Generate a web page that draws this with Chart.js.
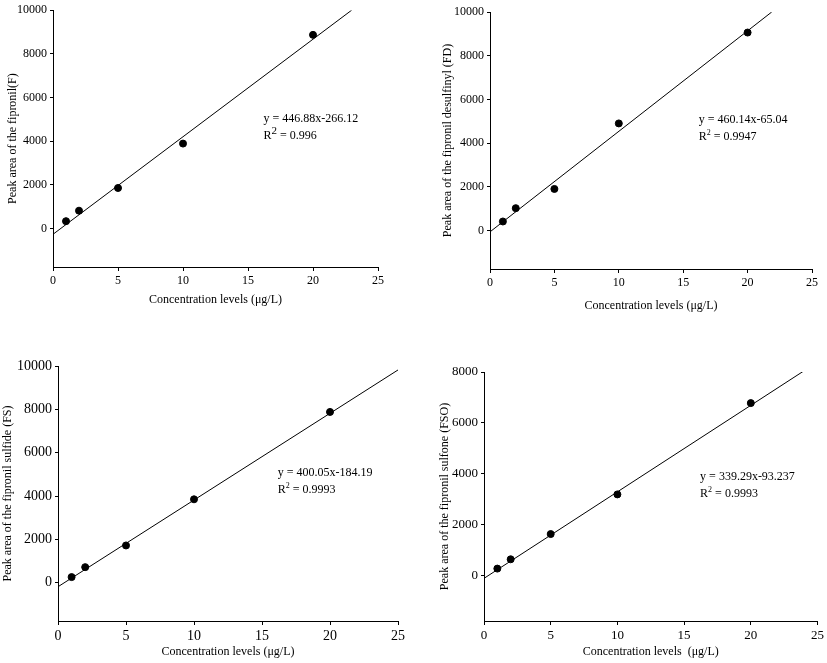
<!DOCTYPE html>
<html>
<head>
<meta charset="utf-8">
<script src="https://cdn.jsdelivr.net/npm/chart.js@4"></script>
<style>
  html, body { margin: 0; padding: 0; background: #fff; }
  #wrap { position: relative; width: 827px; height: 663px; }
  #wrap canvas { position: absolute; left: 0; top: 0; }
</style>
</head>
<body>
<div id="wrap">
  <canvas id="c1" width="827" height="663"></canvas>
  <canvas id="c2" width="827" height="663"></canvas>
  <canvas id="c3" width="827" height="663"></canvas>
  <canvas id="c4" width="827" height="663"></canvas>
</div>
<script>
// concentration levels (µg/L)
const concentrations = [1, 2, 5, 10, 20];

// peak areas
const peakF = [335, 815, 1855, 3890, 8870];
const peakFD = [410, 1020, 1900, 4900, 9060];
const peakFS = [260, 720, 1720, 3850, 7880];
const peakFSO = [290, 655, 1645, 3200, 6780];

// fitted lines: slope, intercept, end of drawn line on x
const slopes = [446.88, 460.14, 400.05, 339.29];
const intercepts = [-266.12, -65.04, -184.19, -93.237];
const lineEnds = [22.97, 21.87, 25, 23.95];

const equations = ["y = 446.88x-266.12", "y = 460.14x-65.04", "y = 400.05x-184.19", "y = 339.29x-93.237"];
const rSquared = ["0.996", "0.9947", "0.9993", "0.9993"];

const xTicks = [0, 5, 10, 15, 20, 25];
const yTicksA = [0, 2000, 4000, 6000, 8000, 10000];
const yTicksB = [0, 2000, 4000, 6000, 8000];

const yTitles = [
  "Peak area of the fipronil(F)",
  "Peak area of the fipronil desulfinyl (FD)",
  "Peak area of the fipronil sulfide (FS)",
  "Peak area of the fipronil sulfone (FSO)"
];
const xTitles = [
  "Concentration levels (\u03bcg/L)",
  "Concentration levels (\u03bcg/L)",
  "Concentration levels (\u03bcg/L)",
  "Concentration levels  (\u03bcg/L)"
];

const FONT = "'Liberation Serif', 'Times New Roman', serif";

// per-panel placement
const panels = [
  { id: "c1", data: peakF, yTicks: yTicksA, yMax: 10000, pad: { left: 7, right: 449, top: 7, bottom: 357 }, yW: 46, xH: 39, tickSize: 12, note: [16.2, 5000] },
  { id: "c2", data: peakFD, yTicks: yTicksA, yMax: 10000, pad: { left: 442, right: 15, top: 12, bottom: 351 }, yW: 48, xH: 43, tickSize: 12, note: [16.2, 5050] },
  { id: "c3", data: peakFS, yTicks: yTicksA, yMax: 10000, pad: { left: 2, right: 429, top: 366, bottom: 5 }, yW: 56, xH: 37, tickSize: 14, note: [16.15, 5070] },
  { id: "c4", data: peakFSO, yTicks: yTicksB, yMax: 8000, pad: { left: 439, right: 7, top: 372, bottom: 5 }, yW: 45, xH: 37, tickSize: 13, note: [16.2, 3880] }
];

const equationPlugin = {
  id: "equation",
  afterDatasetsDraw(chart, args, opts) {
    const { ctx, scales } = chart;
    const x = scales.x.getPixelForValue(opts.at[0]);
    const y = scales.y.getPixelForValue(opts.at[1]);
    ctx.save();
    ctx.fillStyle = "#000";
    ctx.textBaseline = "middle";
    ctx.textAlign = "left";
    ctx.font = "12px " + FONT;
    ctx.fillText(opts.eq, x, y);
    const y2 = y + 17;
    ctx.fillText("R", x, y2);
    const rw = ctx.measureText("R").width;
    ctx.font = (opts.bigSup ? "11px " : "8px ") + FONT;
    ctx.fillText("2", x + rw, y2 - (opts.bigSup ? 5 : 4));
    const sw = ctx.measureText("2").width;
    ctx.font = "12px " + FONT;
    ctx.fillText(" = " + opts.r2, x + rw + sw, y2);
    ctx.restore();
  }
};

panels.forEach((p, i) => {
  const points = concentrations.map((c, k) => ({ x: c, y: p.data[k] }));
  const fit = [
    { x: 0, y: intercepts[i] },
    { x: lineEnds[i], y: slopes[i] * lineEnds[i] + intercepts[i] }
  ];
  new Chart(document.getElementById(p.id).getContext("2d"), {
    type: "scatter",
    data: {
      datasets: [
        {
          label: "measured",
          data: points,
          backgroundColor: "#000",
          borderColor: "#000",
          pointRadius: 3.5,
          pointHoverRadius: 3.5
        },
        {
          label: "fit",
          type: "line",
          data: fit,
          borderColor: "#000",
          borderWidth: 1,
          pointRadius: 0,
          fill: false
        }
      ]
    },
    plugins: [equationPlugin],
    options: {
      responsive: false,
      animation: false,
      events: [],
      layout: { padding: p.pad },
      plugins: {
        legend: { display: false },
        tooltip: { enabled: false },
        equation: { at: p.note, eq: equations[i], r2: rSquared[i], bigSup: i === 0 }
      },
      scales: {
        x: {
          type: "linear",
          min: 0,
          max: 25,
          afterFit: (s) => { s.height = p.xH; },
          afterBuildTicks: (s) => { s.ticks = xTicks.map((v) => ({ value: v })); },
          grid: { drawOnChartArea: false, drawTicks: true, tickLength: 4, color: "#000" },
          border: { display: true, color: "#000", width: 1 },
          ticks: { color: "#000", padding: 3, maxRotation: 0, callback: (v) => String(v), font: { family: FONT, size: p.tickSize } },
          title: { display: true, text: xTitles[i], color: "#000", padding: 0, font: { family: FONT, size: 12, lineHeight: 1 } }
        },
        y: {
          type: "linear",
          min: -1765,
          max: p.yMax,
          afterFit: (s) => { s.width = p.yW; },
          afterBuildTicks: (s) => { s.ticks = p.yTicks.map((v) => ({ value: v })); },
          grid: { drawOnChartArea: false, drawTicks: true, tickLength: 3, color: "#000" },
          border: { display: true, color: "#000", width: 1 },
          ticks: { color: "#000", padding: 3, callback: (v) => String(v), font: { family: FONT, size: p.tickSize } },
          title: { display: true, text: yTitles[i], color: "#000", padding: 0, font: { family: FONT, size: 12, lineHeight: 1 } }
        }
      }
    }
  });
});
</script>
</body>
</html>
